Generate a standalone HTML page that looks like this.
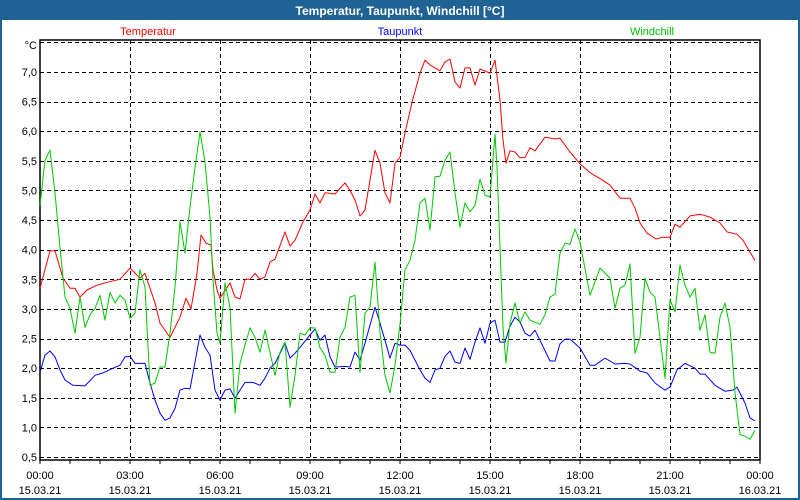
<!DOCTYPE html>
<html><head><meta charset="utf-8"><style>
html,body{margin:0;padding:0;background:#fff}
#wrap{position:relative;width:800px;height:500px;overflow:hidden;font-family:"Liberation Sans",sans-serif}
</style></head><body>
<div id="wrap">
<svg id="chart" width="800" height="500" xmlns="http://www.w3.org/2000/svg">
<rect x="1" y="1" width="798" height="498" fill="#fff" stroke="#1f6395" stroke-width="2"/>
<rect x="0" y="0" width="800" height="20" fill="#1f6395"/>
<text x="400" y="15" text-anchor="middle" font-size="12" font-weight="bold" fill="#fff">Temperatur, Taupunkt, Windchill [°C]</text>
<text x="148" y="35" text-anchor="middle" font-size="11" fill="#ff0000">Temperatur</text>
<text x="400" y="35" text-anchor="middle" font-size="11" fill="#0000ff">Taupunkt</text>
<text x="652" y="35" text-anchor="middle" font-size="11" fill="#00c000">Windchill</text>
<g id="grid" shape-rendering="crispEdges"></g><g id="axes"></g><g id="series"></g>
</svg>
</div>
<script>
const yTicks=[0.5,1.0,1.5,2.0,2.5,3.0,3.5,4.0,4.5,5.0,5.5,6.0,6.5,7.0];
const yTickLabels=["0,5","1,0","1,5","2,0","2,5","3,0","3,5","4,0","4,5","5,0","5,5","6,0","6,5","7,0"];
const xTickHours=[0,3,6,9,12,15,18,21,24];
const xTimeLabels=["00:00","03:00","06:00","09:00","12:00","15:00","18:00","21:00","00:00"];
const xDateLabels=["15.03.21","15.03.21","15.03.21","15.03.21","15.03.21","15.03.21","15.03.21","15.03.21","16.03.21"];
const tempTimes=[0,20,30,46,60,70,80,94,114,134,160,180,200,210,230,240,260,280,292,302,314,322,332,342,346,354,360,380,390,400,410,420,430,440,450,460,470,490,500,510,526,540,550,560,570,590,610,620,630,640,650,670,680,690,700,710,720,730,744,760,770,780,800,810,820,830,840,850,860,870,880,900,910,920,926,932,940,950,960,970,980,990,1010,1030,1040,1060,1080,1100,1120,1140,1160,1180,1190,1200,1214,1232,1244,1260,1270,1280,1300,1320,1340,1360,1374,1394,1406,1420,1430];
const tempValues=[3.35,3.98,3.98,3.52,3.35,3.35,3.2,3.32,3.4,3.45,3.5,3.69,3.52,3.6,3.1,2.76,2.52,2.86,3.18,3.0,3.6,4.25,4.11,4.08,3.66,3.32,3.18,3.44,3.2,3.17,3.5,3.5,3.6,3.5,3.54,3.79,3.84,4.3,4.06,4.16,4.47,4.67,4.94,4.79,4.96,4.94,5.13,5.0,4.84,4.57,4.67,5.68,5.46,4.96,4.79,5.46,5.56,5.97,6.49,6.98,7.2,7.12,7.02,7.17,7.22,6.83,6.73,7.07,7.07,6.78,7.05,6.98,7.2,6.53,5.85,5.46,5.67,5.65,5.55,5.56,5.72,5.67,5.9,5.87,5.88,5.65,5.45,5.3,5.2,5.09,4.87,4.87,4.7,4.45,4.28,4.18,4.21,4.21,4.43,4.38,4.57,4.6,4.55,4.45,4.3,4.26,4.16,3.96,3.82];
const dewTimes=[0,10,20,30,40,50,66,90,110,126,146,160,170,180,190,210,220,230,240,250,260,270,280,290,300,310,320,330,340,350,360,370,380,390,400,410,426,440,450,460,470,490,500,510,520,540,550,560,570,580,590,610,620,630,640,650,670,680,690,700,710,720,730,740,760,770,780,790,800,810,820,830,840,850,860,870,880,890,900,910,920,930,940,950,960,970,980,990,1000,1020,1030,1040,1050,1060,1080,1100,1110,1130,1150,1170,1180,1200,1214,1230,1250,1260,1274,1290,1310,1320,1330,1350,1370,1386,1394,1410,1420,1430];
const dewValues=[1.93,2.22,2.29,2.19,1.97,1.8,1.71,1.7,1.88,1.92,2.0,2.05,2.19,2.2,2.08,2.08,1.75,1.46,1.24,1.12,1.16,1.32,1.63,1.66,1.65,2.1,2.56,2.35,2.22,1.63,1.46,1.63,1.65,1.49,1.63,1.76,1.76,1.71,1.83,2.0,2.08,2.42,2.17,2.25,2.35,2.56,2.66,2.47,2.56,2.19,2.02,2.03,2.02,2.27,2.14,2.42,3.03,2.76,2.47,2.17,2.42,2.39,2.39,2.3,1.97,1.83,1.76,1.97,2.0,2.2,2.29,2.1,2.08,2.34,2.15,2.44,2.68,2.42,2.76,2.81,2.44,2.44,2.71,2.86,2.78,2.59,2.54,2.64,2.47,2.12,2.12,2.41,2.49,2.49,2.34,2.05,2.05,2.17,2.07,2.08,2.07,1.95,1.92,1.75,1.63,1.68,1.97,2.08,2.0,1.9,1.9,1.71,1.61,1.63,1.68,1.41,1.16,1.11];
const chillTimes=[0,10,20,30,40,50,60,70,80,90,100,110,120,130,140,150,160,170,180,190,200,210,220,230,240,250,260,270,280,290,300,310,320,330,340,346,354,360,370,380,390,400,410,420,430,440,450,460,470,480,490,500,510,520,530,540,550,560,570,580,590,600,610,620,630,640,650,660,670,680,690,700,710,720,730,740,750,760,770,780,790,800,810,820,830,840,850,860,870,880,890,900,910,914,920,926,932,940,950,960,970,980,1000,1010,1020,1030,1040,1050,1060,1070,1080,1100,1120,1140,1150,1160,1170,1180,1190,1200,1210,1220,1230,1250,1260,1270,1280,1290,1300,1310,1320,1330,1340,1350,1360,1370,1380,1390,1400,1410,1420,1430];
const chillValues=[4.75,5.51,5.68,4.96,4.03,3.2,3.01,2.59,3.2,2.69,2.9,3.01,3.23,2.81,3.28,3.1,3.23,3.15,2.84,2.93,3.66,3.37,1.71,1.75,2.02,2.02,2.59,3.37,4.47,3.94,4.72,5.39,5.99,5.48,4.55,3.49,2.59,2.42,3.44,3.03,1.24,2.08,2.39,2.68,2.52,2.27,2.64,2.27,1.88,2.27,2.44,1.34,1.88,2.59,2.56,2.68,2.68,2.34,2.22,1.93,1.93,2.52,2.69,3.2,3.23,1.93,2.93,3.03,3.79,2.61,1.88,1.58,2.05,2.74,3.66,3.82,4.16,4.79,4.87,4.33,5.23,5.24,5.51,5.65,4.96,4.38,4.79,4.64,4.75,5.19,4.92,4.89,5.95,5.39,4.04,2.69,2.08,2.76,3.1,2.76,2.95,2.81,2.74,2.9,3.2,3.25,3.94,4.11,4.09,4.35,4.13,3.23,3.69,3.52,3.01,3.35,3.4,3.76,2.25,2.52,3.52,3.28,3.2,1.83,3.15,2.95,3.74,3.4,3.2,3.35,2.64,2.9,2.27,2.25,2.86,3.1,2.69,1.58,0.88,0.85,0.8,0.95];

const NS="http://www.w3.org/2000/svg";
const X0=40,X1=760,Y0=457,PX_PER=59.23;
function xScale(min){return X0+(X1-X0)*min/1440;}
function yScale(v){return Y0-(v-0.5)*PX_PER;}
function mk(tag,attrs,parent){const e=document.createElementNS(NS,tag);for(const k in attrs)e.setAttribute(k,attrs[k]);parent.appendChild(e);return e;}
const grid=document.getElementById('grid'),axes=document.getElementById('axes'),series=document.getElementById('series');
[...yTicks,7.5].forEach(v=>{
  const y=Math.round(yScale(v))+0.5;
  const l=mk('line',{x1:X0,x2:X1,y1:y,y2:y,stroke:'#000','stroke-width':1,'stroke-dasharray':'4,3'},grid);
  
  
});
xTickHours.slice(1,-1).forEach(h=>{
  const x=Math.round(xScale(h*60))+0.5;
  const l=mk('line',{x1:x,x2:x,y1:40,y2:460,stroke:'#000','stroke-width':1,'stroke-dasharray':'4,3'},grid);
  
  
});
const box=mk('rect',{x:X0,y:40,width:X1-X0,height:420,fill:'none',stroke:'#000','stroke-width':1.5},axes);


for(let h=0;h<=24;h++){
  const t=mk('line',{x1:xScale(h*60),x2:xScale(h*60),y1:460,y2:464,stroke:'#000','stroke-width':1},axes);
  
  
}
yTicks.forEach((v,i)=>{
  const t=mk('text',{x:37,y:yScale(v)+4,'text-anchor':'end','font-size':11,fill:'#000'},axes);
  t.textContent=yTickLabels[i];
  
  
});
const unit=mk('text',{x:37,y:49,'text-anchor':'end','font-size':11,fill:'#000'},axes);
unit.textContent='°C';


xTickHours.forEach((h,i)=>{
  const a=mk('text',{x:xScale(h*60),y:479,'text-anchor':'middle','font-size':11,fill:'#000'},axes);
  a.textContent=xTimeLabels[i];
  
  
  const b=mk('text',{x:xScale(h*60),y:494,'text-anchor':'middle','font-size':11,fill:'#000'},axes);
  b.textContent=xDateLabels[i];
  
  
});
function drawLine(times,vals,color,name){
  const d=times.map((t,i)=>(i?'L':'M')+xScale(t).toFixed(1)+','+yScale(vals[i]).toFixed(1)).join(' ');
  const p=mk('path',{d:d,fill:'none',stroke:color,'stroke-width':1,'stroke-linejoin':'round'},series);
  
  
}
drawLine(tempTimes,tempValues,'#ff0000','temperatur-line');
drawLine(dewTimes,dewValues,'#0000ff','taupunkt-line');
drawLine(chillTimes,chillValues,'#00c800','windchill-line');
</script>
</body></html>
